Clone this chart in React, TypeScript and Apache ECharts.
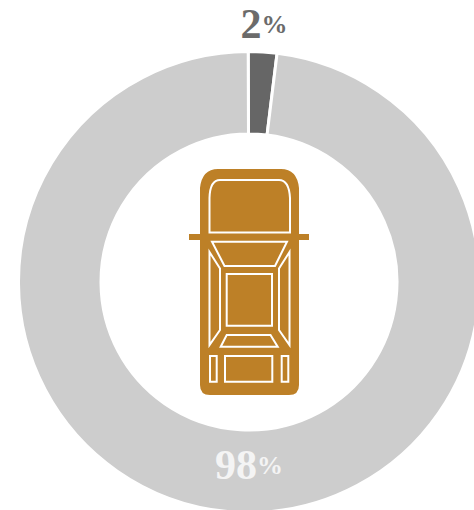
import React, { useEffect, useRef } from "react";
import * as echarts from "echarts";

const sliceNames = ["Yes", "No"];
const sliceValues = [2, 98];
const sliceColors = ["#666666", "#cdcdcd"];
const labelColors = ["#6b6b6b", "#f4f4f4"];
const labelFont = '"Liberation Serif", serif';
const carColor = "#bd8027";
const overlayZ = 10;

// Top-down vehicle silhouette, drawn as one shape for the body and door mirrors
const bodyPath =
  "M218 169 L281 169 Q297 169 299 188 L299 234 L309 234 L309 240 L299 240 L299 385 Q299 395 289 395 L210 395 Q200 395 200 385 L200 240 L189 240 L189 234 L200 234 L200 188 Q202 169 218 169 Z";
const windshieldPath =
  "M209.5 232.5 L209.5 198 Q210 180 220 180 L279 180 Q289 180 290 198 L290 232.5 Z";

function outlined(shape: string) {
  return { type: shape, x: 0, y: 0, z: overlayZ, style: { fill: "none", stroke: "#ffffff", lineWidth: 2 } };
}

function closedLine(points: number[][]) {
  return {
    type: "polygon",
    z: overlayZ,
    shape: { points },
    style: { fill: "none", stroke: "#ffffff", lineWidth: 2 },
  };
}

function percentText(value: number, color: string, x: number, y: number) {
  return {
    type: "text",
    x,
    y,
    z: overlayZ,
    style: {
      text: `{n|${value}}{p|%}`,
      textAlign: "center",
      textVerticalAlign: "bottom",
      rich: {
        n: { fill: color, fontSize: 42, fontWeight: "bold", fontFamily: labelFont },
        p: { fill: color, fontSize: 26, fontWeight: "bold", fontFamily: labelFont },
      },
    },
  };
}

export default function App() {
  const ref = useRef<HTMLDivElement>(null);

  useEffect(() => {
    echarts.graphic.registerShape("carBody", echarts.graphic.extendPath(bodyPath, {}) as any);
    echarts.graphic.registerShape("carWindshield", echarts.graphic.extendPath(windshieldPath, {}) as any);

    const chart = echarts.init(ref.current!, null, { renderer: "svg" });
    chart.setOption({
      animation: false,
      backgroundColor: "#ffffff",
      series: [
        {
          type: "pie",
          center: [249, 282],
          radius: [148, 230.5],
          startAngle: 90.2,
          silent: true,
          label: { show: false },
          labelLine: { show: false },
          itemStyle: { borderColor: "#ffffff", borderWidth: 3 },
          data: sliceNames.map((name, i) => ({
            name,
            value: sliceValues[i],
            itemStyle: { color: sliceColors[i] },
          })),
        },
      ],
      graphic: [
        { type: "carBody", x: 0, y: 0, z: overlayZ, style: { fill: carColor } },
        outlined("carWindshield"),
        closedLine([[212, 241.7], [287, 241.7], [275, 266], [224.5, 266]]),
        closedLine([[209.5, 252], [220, 268.5], [220, 330], [209.5, 345]]),
        closedLine([[289.5, 252], [279, 268.5], [279, 330], [289.5, 345]]),
        closedLine([[226.7, 274], [272, 274], [272, 325.7], [226.7, 325.7]]),
        closedLine([[226.7, 335], [270.5, 335], [277.7, 346.7], [220.7, 346.7]]),
        closedLine([[210, 356], [216.7, 356], [216.7, 381.7], [210, 381.7]]),
        closedLine([[225, 356], [272.3, 356], [272.3, 381.7], [225, 381.7]]),
        closedLine([[281.7, 356], [288.3, 356], [288.3, 381.7], [281.7, 381.7]]),
        percentText(sliceValues[0], labelColors[0], 264, 45),
        percentText(sliceValues[1], labelColors[1], 249, 486),
      ],
    });
    return () => chart.dispose();
  }, []);

  return (
    <div
      ref={ref}
      style={{ position: "fixed", left: 0, top: 0, width: 474, height: 510, overflow: "hidden" }}
    />
  );
}
